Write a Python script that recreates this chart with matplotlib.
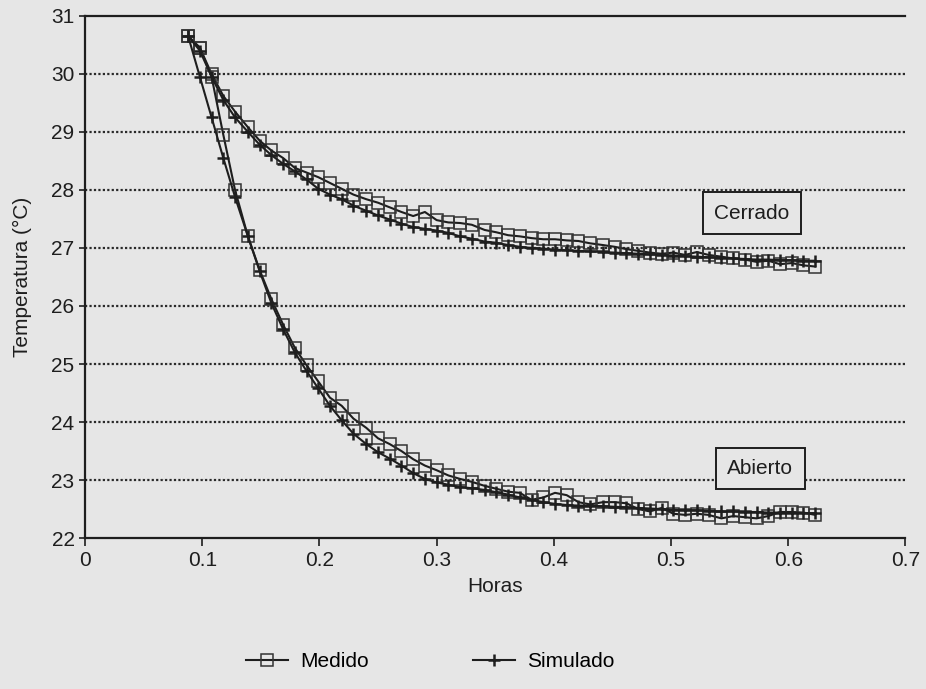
import matplotlib
matplotlib.use("Agg")
import matplotlib.pyplot as plt

plt.rcParams['font.family'] = ['Liberation Sans', 'DejaVu Sans']

# time (hours)
horas = [0.088, 0.098, 0.108, 0.118, 0.128, 0.139, 0.149, 0.159, 0.169, 0.179,
         0.189, 0.199, 0.209, 0.219, 0.229, 0.240, 0.250, 0.260, 0.270, 0.280,
         0.290, 0.300, 0.310, 0.320, 0.330, 0.341, 0.351, 0.361, 0.371, 0.381,
         0.391, 0.401, 0.411, 0.421, 0.431, 0.442, 0.452, 0.462, 0.472, 0.482,
         0.492, 0.502, 0.512, 0.522, 0.532, 0.543, 0.553, 0.563, 0.573, 0.583,
         0.593, 0.603, 0.613, 0.623]

cerrado_medido = [30.65, 30.45, 30.00, 29.62, 29.35, 29.08, 28.85, 28.68, 28.55, 28.38,
                  28.30, 28.22, 28.12, 28.02, 27.92, 27.84, 27.78, 27.70, 27.62, 27.55,
                  27.62, 27.48, 27.44, 27.43, 27.40, 27.31, 27.27, 27.22, 27.20, 27.17,
                  27.15, 27.15, 27.13, 27.12, 27.08, 27.05, 27.02, 26.98, 26.95, 26.92,
                  26.90, 26.92, 26.88, 26.93, 26.88, 26.85, 26.82, 26.80, 26.76, 26.78,
                  26.72, 26.74, 26.70, 26.68]

cerrado_simulado = [30.65, 30.40, 29.95, 29.55, 29.25, 29.00, 28.78, 28.60, 28.45, 28.32,
                    28.18, 28.02, 27.92, 27.84, 27.73, 27.64, 27.56, 27.49, 27.42, 27.36,
                    27.33, 27.30, 27.26, 27.20, 27.16, 27.11, 27.09, 27.05, 27.02, 27.00,
                    26.99, 26.97, 26.96, 26.95, 26.94, 26.93, 26.92, 26.91, 26.90, 26.89,
                    26.88, 26.87, 26.86, 26.85, 26.84, 26.83, 26.82, 26.81, 26.80, 26.80,
                    26.79, 26.79, 26.78, 26.78]

abierto_medido = [30.65, 30.45, 29.95, 28.95, 28.00, 27.20, 26.62, 26.12, 25.68, 25.28,
                  24.98, 24.70, 24.42, 24.28, 24.06, 23.90, 23.72, 23.62, 23.50, 23.36,
                  23.25, 23.17, 23.08, 23.02, 22.97, 22.90, 22.85, 22.80, 22.78, 22.66,
                  22.70, 22.78, 22.74, 22.62, 22.58, 22.62, 22.62, 22.60, 22.50, 22.46,
                  22.52, 22.42, 22.40, 22.42, 22.40, 22.34, 22.38, 22.36, 22.34, 22.38,
                  22.45, 22.45, 22.44, 22.40]

abierto_simulado = [30.65, 29.95, 29.25, 28.55, 27.88, 27.20, 26.60, 26.05, 25.60, 25.20,
                    24.88, 24.58, 24.28, 24.03, 23.80, 23.62, 23.48, 23.37, 23.25, 23.12,
                    23.02, 22.96, 22.92, 22.88, 22.86, 22.83, 22.79, 22.75, 22.70, 22.66,
                    22.62, 22.59, 22.57, 22.56, 22.56, 22.55, 22.54, 22.53, 22.52, 22.51,
                    22.50, 22.49, 22.48, 22.48, 22.47, 22.46, 22.46, 22.45, 22.45, 22.44,
                    22.44, 22.44, 22.43, 22.43]

xticks = [0, 0.1, 0.2, 0.3, 0.4, 0.5, 0.6, 0.7]
xticklabels = ['0', '0.1', '0.2', '0.3', '0.4', '0.5', '0.6', '0.7']
yticks = [22, 23, 24, 25, 26, 27, 28, 29, 30, 31]

bg = '#e6e6e6'
ink = '#1e1e1e'

fig = plt.figure(figsize=(9.26, 6.89), dpi=100, facecolor=bg)
ax = fig.add_axes([0.0918, 0.219, 0.886, 0.758], facecolor=bg)

ax.set_xlim(0, 0.7)
ax.set_ylim(22, 31)

for y in yticks[1:-1]:
    ax.axhline(y, color='#2a2a2a', lw=1.6, ls=(0, (1, 1)), zorder=1)

med_kw = dict(color=ink, lw=1.5, marker='s', markersize=8.5, markerfacecolor='none',
              markeredgecolor='#333333', markeredgewidth=1.1, zorder=3)
sim_kw = dict(color=ink, lw=1.5, marker='+', markersize=9, markeredgewidth=1.8,
              markeredgecolor=ink, zorder=4)

l1, = ax.plot(horas, cerrado_medido, **med_kw)
l2, = ax.plot(horas, cerrado_simulado, **sim_kw)
ax.plot(horas, abierto_medido, **med_kw)
ax.plot(horas, abierto_simulado, **sim_kw)

ax.set_xticks(xticks)
ax.set_xticklabels(xticklabels)
ax.set_yticks(yticks)
ax.tick_params(axis='both', labelsize=15, colors=ink, direction='out', length=6, width=1.2)
ax.tick_params(axis='y', length=4)

ax.spines['right'].set_visible(False)
for s in ['left', 'bottom', 'top']:
    ax.spines[s].set_color(ink)
    ax.spines[s].set_linewidth(1.6)

ax.set_xlabel('Horas', fontsize=15, color=ink, labelpad=5)
ax.set_ylabel('Temperatura (°C)', fontsize=15, color=ink, labelpad=14)

box = dict(boxstyle='square,pad=0.55', facecolor=bg, edgecolor=ink, linewidth=1.4)
ax.text(0.569, 27.6, 'Cerrado', fontsize=15, ha='center', va='center', color=ink, bbox=box, zorder=5)
ax.text(0.576, 23.2, 'Abierto', fontsize=15, ha='center', va='center', color=ink, bbox=box, zorder=5)

fig.legend([l1, l2], ['Medido', 'Simulado'], loc='center', bbox_to_anchor=(0.465, 0.04),
           ncol=2, frameon=False, fontsize=15, handlelength=2.0, columnspacing=5.0,
           handletextpad=0.6)

fig.savefig('out.png', dpi=100, facecolor=bg)
